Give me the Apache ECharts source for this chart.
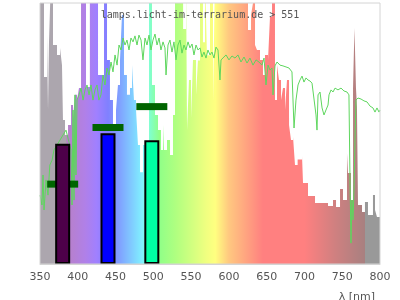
<!DOCTYPE html>
<html>
<head>
<meta charset="utf-8">
<script src="https://cdn.jsdelivr.net/npm/echarts@6/dist/echarts.min.js"></script>
<style>html,body{margin:0;padding:0;background:#fff}#c{width:400px;height:300px}</style>
</head>
<body>
<div id="c"></div>
<script>
// lamp spectrum: [wavelength nm (segment start), relative intensity]
var lampSpectrum = [[350,110],[355.3,71.6],[359.3,88],[360.6,59],[361.9,85],[364.5,110],[367.2,83.9],[372.5,80.1],[376.5,82.8],[379.1,76.2],[380.4,55.2],[383.1,49.4],[387.1,53.3],[391,60.9],[393.7,55.9],[396.3,64.8],[399,62.8],[401.6,67.4],[404.3,110],[410.9,67.8],[416,110],[426.8,72.4],[434.7,110],[438.7,78.2],[442.6,62.8],[446.6,51.3],[450.6,59],[453.2,68.6],[455.9,78.2],[458.5,95.4],[461.2,72.4],[465.1,64.8],[469.1,67.4],[471.8,76.2],[474.4,62.8],[477.1,59],[479.7,45.6],[482.4,35.2],[486.3,45.6],[494.3,110],[498.2,68.6],[502.2,57.1],[506.2,51.3],[510.1,43.7],[512.8,53.3],[514.1,43.7],[518.1,47.5],[522.1,41.8],[526,57.1],[528.7,110],[539.4,90],[543.3,110],[544.6,51.3],[547.2,70.5],[549.9,55.9],[552.5,78.2],[556.5,64.8],[559.1,78],[561.8,110],[565.7,85],[568.4,110],[571,80],[575,110],[579,62],[581.6,110],[625.3,89.7],[629.3,95.4],[631.9,100],[634.6,83.9],[637.2,82],[641.2,78.2],[645.1,72.4],[647.8,80.1],[651.8,78.2],[654.4,94.6],[657.1,110],[661,62.8],[663.7,76.2],[666.3,70.5],[669,62.8],[671.6,67.4],[674.3,59],[676.9,70.5],[679.6,53.3],[682.2,47.5],[684.9,48.7],[687.5,37.9],[691,40],[696.8,41.4],[698.1,31],[704.7,26.1],[714,23.4],[731.2,22.2],[737.8,24.5],[741.8,21.8],[747.1,28.7],[751,24.5],[756.3,42.5],[757.6,34.9],[761.6,24.5],[764.3,67.4],[766.2,90.4],[768.2,67.4],[769.5,60.2],[770.9,22.6],[776.2,19.9],[780.1,23.8],[784.1,18.8],[790.7,26.4],[793.4,20.7],[796,18],[800,18]];

// reference (daylight) spectrum: [wavelength nm, relative intensity]
var referenceSpectrum = [[350,26.4],[352.6,22.6],[354,34.1],[355.3,20.7],[358,32.2],[360.6,26.4],[363,37.9],[366,39.8],[368.5,43.7],[376.5,47.5],[384.4,51.3],[391,43.7],[392.4,22.6],[393.7,59],[395,24.5],[396.3,64.8],[397.6,34.1],[399,62.8],[401.6,64.8],[404.3,67.4],[407,62.8],[409.6,66.7],[412.2,68.6],[414.9,64.8],[417.5,68.6],[420.1,62.8],[422.8,66.7],[425.4,68.6],[428,62.8],[430.7,64.8],[433.4,72.4],[436,68.6],[438.7,75.1],[441.3,72.4],[444,77.4],[446.6,73.6],[449.3,80.1],[452,76.2],[454.6,83.9],[457.2,82],[459.9,86.6],[462.5,83.9],[465.1,85.8],[467.8,82],[470.4,86.6],[473.1,85.1],[475.7,87.4],[478.4,83.9],[481,87.7],[483.7,85.8],[486.3,78.2],[489,86.6],[491.6,83.9],[494.3,87.7],[496.9,82],[499.6,85.8],[502.2,88.1],[504.9,83.9],[507.5,86.6],[510.1,82],[512.8,85.1],[515.4,82.8],[516.8,72.4],[519.4,83.9],[522,85.8],[524.7,81.2],[527.3,85.1],[530,78.2],[532.6,83.9],[535.3,85.8],[537.9,80.8],[540.6,83.9],[543.2,82],[545.9,85.1],[548.5,82.8],[551.2,84.3],[553.8,80.1],[556.5,83.9],[559.1,82],[561.8,82.8],[564.4,79.3],[567,81.2],[569.7,78.9],[572.3,82],[575,80.1],[577.6,81.2],[580.3,78.9],[582.9,83.1],[585.6,82],[588.2,70.5],[589.6,78.2],[592.2,78.9],[596.2,80.1],[600.1,78.2],[604.1,79.7],[608.1,78.9],[612,80.1],[616,77.4],[620,79.3],[624,77],[627.9,78.9],[631.9,76.2],[635.9,78.2],[639.8,77.4],[643.8,76.2],[646.5,78.9],[649.1,68.6],[651.8,76.2],[654.4,74.3],[657.1,75.1],[658.4,64.8],[661,75.9],[663.7,77.4],[667.6,76.2],[671.6,75.9],[675.6,75.5],[679.5,75.1],[683.5,73.6],[686.2,52.1],[688.8,62.8],[691.5,68.6],[694.1,70.5],[696.8,72],[699.4,69.7],[702.1,71.3],[704.7,70.5],[707.4,70.1],[710,69.3],[712.6,68.6],[715.3,57.1],[716.6,51.3],[718,64.8],[720.6,65.9],[723.3,59.8],[725.9,57.1],[728.5,59],[731.2,60.9],[732.5,64.8],[735.2,66.7],[737.8,65.9],[740.5,67.4],[744.4,66.7],[748.4,67.4],[752.3,66.3],[756.3,65.9],[758.9,64.8],[760.3,32.2],[761.6,8],[762.9,24.5],[764.3,16.9],[765.6,28.4],[766.9,47.5],[768.2,62.8],[770.9,63.6],[774.9,63.2],[778.8,62.5],[782.8,62.1],[786.8,60.5],[790.7,59.8],[793.4,58.2],[796,59.8],[798.7,58.2],[800,59]];

// LED channels
var barLambda = [380, 440, 498];
var barValue = [46.1, 50.1, 47.4];
var barColors = ['#4d0049', '#0000ff', '#00ffa4'];
var markerValue = [30.6, 52.3, 60.3];

var xTicks = [350, 400, 450, 500, 550, 600, 650, 700, 750, 800];

// spectral colour stops: [wavelength, colour]
var spectrumColors = [[350,'#aca6ae'],[384,'#aca6ae'],[386,'#b880c8'],[410,'#b080e8'],[425,'#a080ff'],[440,'#8080ff'],[455,'#80a0ff'],[470,'#80c8ff'],[485,'#80f0ff'],[495,'#80ffd0'],[508,'#90ff88'],[530,'#b0ff80'],[550,'#d0ff80'],[570,'#f0ff80'],[582,'#ffff80'],[600,'#ffc880'],[625,'#ffa080'],[645,'#ff8080'],[700,'#ff8080'],[740,'#d08080'],[779.9,'#a88080'],[780,'#999999'],[800,'#999999']];

var lmin = xTicks[0], lmax = xTicks[xTicks.length - 1];
var stops = spectrumColors.map(function (s) {
  return { offset: (s[0] - lmin) / (lmax - lmin), color: s[1] };
});

var chart = echarts.init(document.getElementById('c'));
chart.setOption({
  animation: false,
  title: [{
    text: 'lamps.licht-im-terrarium.de > 551',
    left: 'center', top: 5, z: 10,
    textStyle: { fontFamily: 'DejaVu Sans Mono', fontSize: 10, fontWeight: 'normal', color: '#555' }
  }, {
    text: 'λ [nm]',
    right: 20, top: 287,
    textStyle: { fontFamily: 'DejaVu Sans', fontSize: 11, fontWeight: 'normal', color: '#555' }
  }],
  grid: { left: 40, right: 20, top: 3, bottom: 36, show: true, z: 8, borderColor: '#d4d4d4', borderWidth: 1, backgroundColor: 'transparent' },
  xAxis: {
    type: 'value', min: lmin, max: lmax, interval: 50, z: 8,
    axisLine: { show: true, lineStyle: { color: '#d4d4d4' } },
    axisTick: { show: false },
    splitLine: { show: false },
    axisLabel: { color: '#555', fontSize: 11, fontFamily: 'DejaVu Sans', margin: 8 }
  },
  yAxis: {
    type: 'value', min: 0, max: 100,
    show: false, splitLine: { show: false }
  },
  series: [{
    type: 'line', data: lampSpectrum, step: 'end', showSymbol: false, clip: true,
    lineStyle: { width: 0 }, z: 1,
    areaStyle: { opacity: 1, color: new echarts.graphic.LinearGradient(0, 0, 1, 0, stops) }
  }, {
    type: 'line', data: referenceSpectrum, showSymbol: false, clip: true, z: 2,
    lineStyle: { width: 1, color: '#5ed65e' }
  }, {
    type: 'scatter', symbol: 'rect', symbolSize: [31, 7], z: 3,
    itemStyle: { color: '#006400', opacity: 1 },
    data: barLambda.map(function (l, i) { return [l, markerValue[i]]; })
  }, {
    type: 'bar', barWidth: 15, z: 4,
    data: barLambda.map(function (l, i) {
      return { value: [l, barValue[i]], itemStyle: { color: barColors[i], borderColor: '#000', borderWidth: 2 } };
    })
  }]
});
</script>
</body>
</html>
